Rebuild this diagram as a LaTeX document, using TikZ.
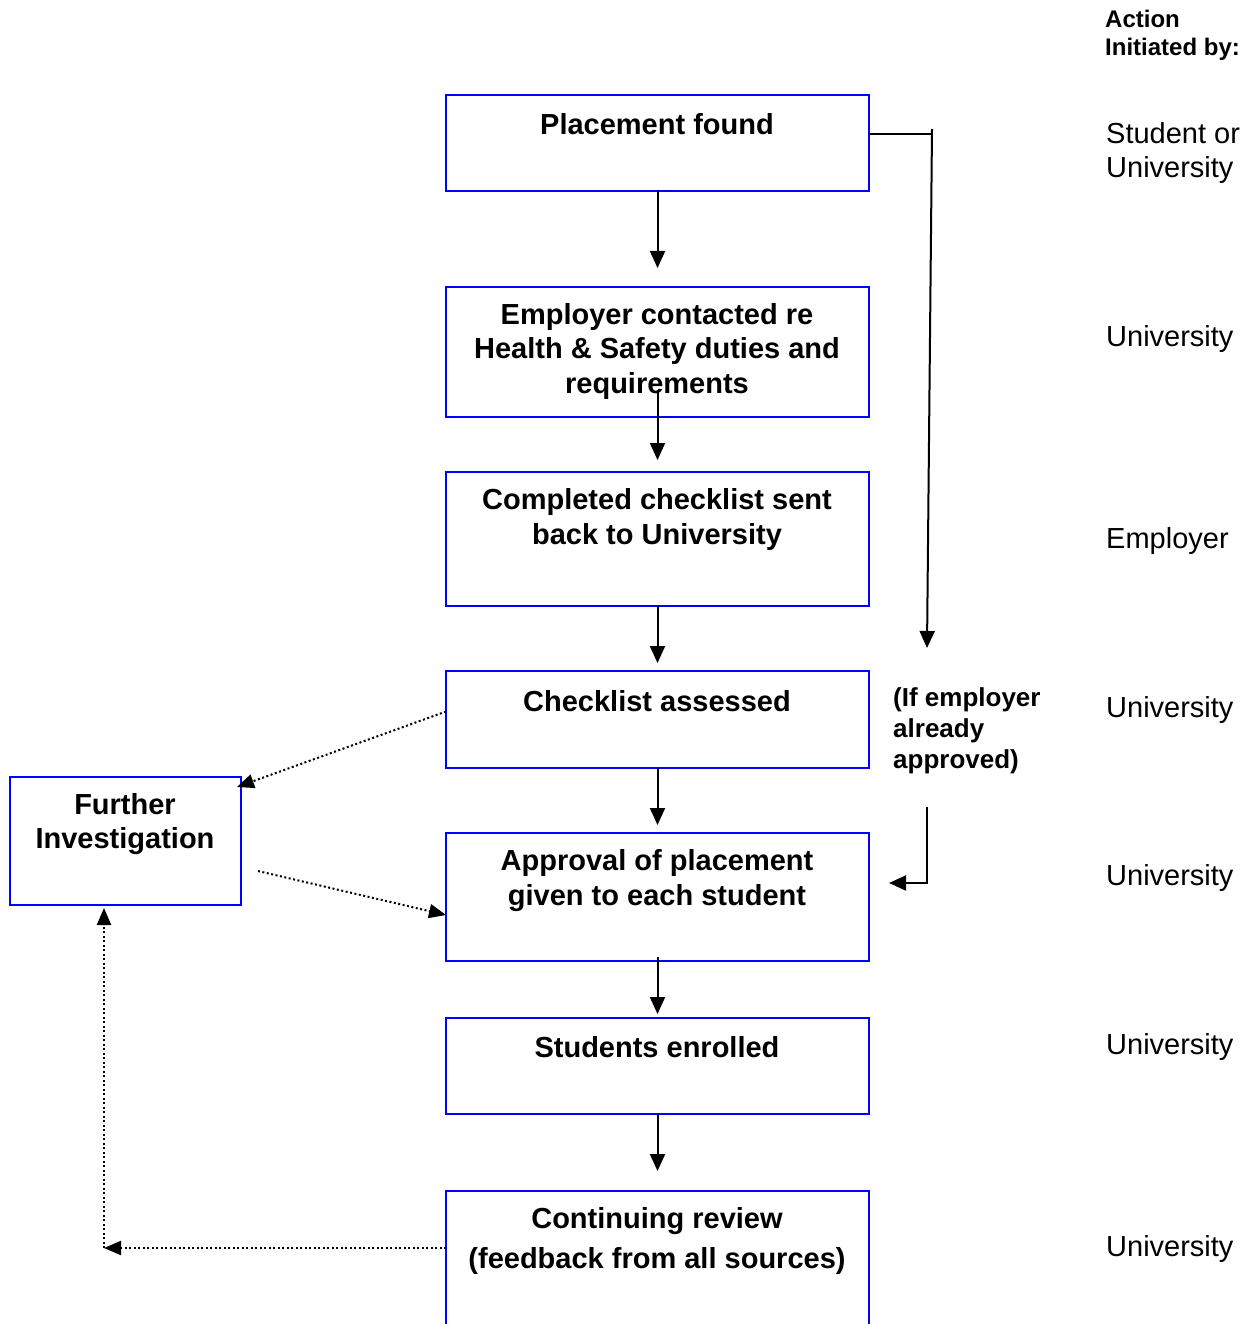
\documentclass[tikz,border=0pt]{standalone}
\usepackage{fontspec}
\setmainfont{Liberation Sans}
\usetikzlibrary{arrows.meta,calc}
\definecolor{boxblue}{RGB}{0,0,255}
\begin{document}
\begin{tikzpicture}[x=1pt,y=-1pt,
  box/.style={draw=boxblue, line width=2.5pt, rectangle, inner sep=0pt, outer sep=0pt, anchor=north west, minimum width=423pt},
  btxt/.style={font=\fontsize{29}{34.5}\selectfont\bfseries, align=center, inner sep=0pt},
  rtxt/.style={font=\fontsize{29}{34.5}\selectfont, align=left, anchor=west, inner sep=0pt},
  arr/.style={line width=2pt, -{Triangle[length=17pt,width=15pt]}},
  darr/.style={line width=2pt, dash pattern=on 2pt off 2.5pt, -{Triangle[length=17pt,width=14pt]}}]
\useasboundingbox (0,0) rectangle (1248,1324);
\clip (0,0) rectangle (1248,1324);
% boxes
\node[box, minimum height=96pt] (pf) at (446,95) {};
\node[box, minimum height=130pt] (ec) at (446,287) {};
\node[box, minimum height=134pt] (cc) at (446,472) {};
\node[box, minimum height=97pt] (ca) at (446,671) {};
\node[box, minimum height=128pt] (ap) at (446,833) {};
\node[box, minimum height=96pt] (se) at (446,1018) {};
\node[box, minimum height=180pt] (cr) at (446,1191) {};
\node[box, minimum width=231pt, minimum height=128pt] (fi) at (10,777) {};
% box texts
\node[btxt] (t1) at (657,124.5) {Placement found};
\node[btxt] (t2) at (657,351) {Employer contacted re\\Health \& Safety duties and\\requirements};
\node[btxt] (t3) at (657,519.5) {Completed checklist sent\\back to University};
\node[btxt] (t4) at (657,701.5) {Checklist assessed};
\node[btxt] (t5) at (657,880.5) {Approval of placement\\given to each student};
\node[btxt] (t6) at (657,1047.5) {Students enrolled};
\node[btxt, font=\fontsize{29}{40}\selectfont\bfseries] (t7) at (657,1240.5) {Continuing review\\(feedback from all sources)};
\node[btxt] (t8) at (125,824) {Further\\Investigation};
% right column
\node[rtxt, font=\fontsize{24}{28}\selectfont\bfseries] (hdr) at (1105,35) {Action\\Initiated by:};
\node[rtxt] (r1) at (1106,153) {Student or\\University};
\node[rtxt] (r2) at (1106,339) {University};
\node[rtxt] (r3) at (1106,541) {Employer};
\node[rtxt] (r4) at (1106,710) {University};
\node[rtxt] (r5) at (1106,878) {University};
\node[rtxt] (r6) at (1106,1047) {University};
\node[rtxt] (r7) at (1106,1249) {University};
\node[rtxt, font=\fontsize{26}{31}\selectfont\bfseries] (note) at (893,730.5) {(If employer\\already\\approved)};
% main flow arrows
\draw[arr, shorten >=19pt] (pf.south) -- (ec.north);
\draw[arr, shorten <=-27pt, shorten >=12pt] (ec.south) -- (cc.north);
\draw[arr, shorten >=8pt] (cc.south) -- (ca.north);
\draw[arr, shorten >=8pt] (ca.south) -- (ap.north);
\draw[arr, shorten <=-4pt, shorten >=4pt] (ap.south) -- (se.north);
\draw[arr, shorten >=20pt] (se.south) -- (cr.north);
% bypass connector
\coordinate (b0) at (932,129);
\coordinate (b1) at (932,134);
\coordinate (b2) at (927,648);
\coordinate (b3) at (927,807);
\coordinate (b4) at (927,883);
\coordinate (b5) at (889,883);
\draw[line width=2pt] (pf.east |- b1) -- (b1);
\draw[arr] (b0) -- (b2);
\draw[arr] (b3) -- (b4) -- (b5);
% dotted feedback connectors
\draw[darr] ($(ca.west)+(0,-8)$) -- ($(fi.north east)+(-4,10)$);
\draw[darr] ($(fi.east)+(17,30)$) -- ($(ap.west)+(0,18)$);
\coordinate (d1) at (104,1248);
\draw[darr] (cr.west |- d1) -- (d1);
\draw[darr, shorten >=3pt] (d1) -- (fi.south -| d1);
\end{tikzpicture}
\end{document}
